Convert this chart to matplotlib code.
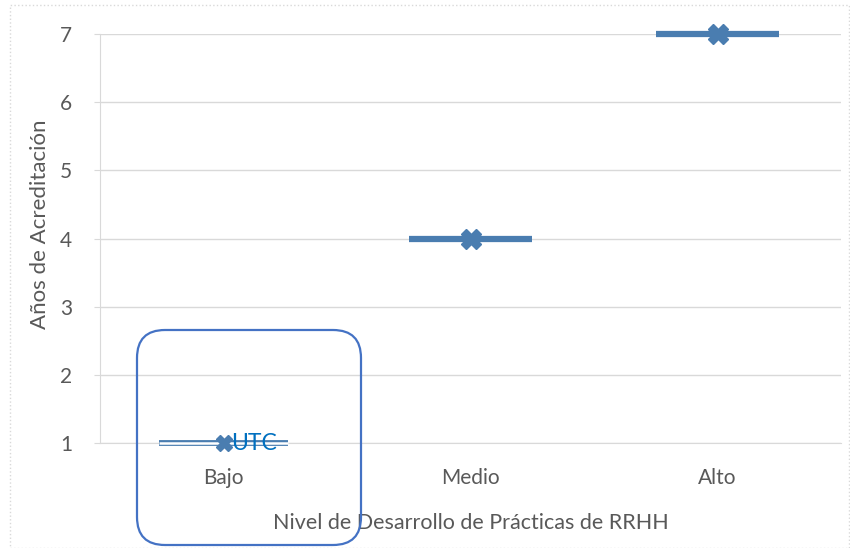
import matplotlib
matplotlib.use('Agg')
import matplotlib.pyplot as plt
from matplotlib.patches import FancyBboxPatch, Rectangle
from matplotlib.transforms import IdentityTransform

categories = ['Bajo', 'Medio', 'Alto']
years = [1, 4, 7]
yticks = [1, 2, 3, 4, 5, 6, 7]
note_text = 'UTC'

blue = '#4A7DB0'
gray_txt = '#595959'
grid_c = '#D9D9D9'

plt.rcParams['font.family'] = ['Lato', 'DejaVu Sans']

fig = plt.figure(figsize=(8.5, 5.48), dpi=100)
ax = fig.add_axes([100/850, 1-443/548, 741/850, (443-34)/548])

x = list(range(len(categories)))
half = 0.26
for i, v in zip(x, years):
    if i == 0:
        # collapsed box drawn as outline only
        ax.plot([i-half, i+half], [v, v], color=blue, lw=4.2, solid_capstyle='butt',
                zorder=3, clip_on=False)
        ax.plot([i-half, i+half], [v, v], color='white', lw=1.8,
                solid_capstyle='butt', zorder=4, clip_on=False)
    else:
        ax.plot([i-half+0.01, i+half-0.01], [v, v], color=blue, lw=4.5,
                solid_capstyle='butt', zorder=3, clip_on=False)
ax.plot(x[1:], years[1:], linestyle='none', marker='X', ms=14, color=blue, mec=blue,
        zorder=5, clip_on=False)
# Bajo marker sits behind the note
ax.plot(x[:1], years[:1], linestyle='none', marker='X', ms=11, color=blue, mec=blue,
        zorder=5, clip_on=False)

ax.text(x[0]+0.125, years[0], note_text, color='#0070C0', fontsize=16.5,
        ha='center', va='center', zorder=6)

ax.set_xlim(-0.5, 2.5)
ax.set_ylim(1, 7)
ax.set_yticks(yticks)
ax.set_xticks(x)
ax.set_xticklabels(categories)
ax.grid(axis='y', color=grid_c, lw=1)
ax.set_axisbelow(True)
for s in ['top', 'right']:
    ax.spines[s].set_visible(False)
ax.spines['left'].set_color(grid_c)
ax.spines['bottom'].set_color(grid_c)
ax.tick_params(axis='y', colors=grid_c, labelcolor=gray_txt, labelsize=15, length=4, pad=16)
ax.tick_params(axis='x', length=0, labelcolor=gray_txt, labelsize=15, pad=18)
ax.set_xlabel('Nivel de Desarrollo de Prácticas de RRHH', color=gray_txt, fontsize=15.5, labelpad=18)
ax.set_ylabel('Años de Acreditación', color=gray_txt, fontsize=16)
ax.yaxis.set_label_coords(-50/741, 0.535)

# callout box around Bajo
box = FancyBboxPatch((137, 3), 224, 215, boxstyle='round,pad=0,rounding_size=28',
                     transform=IdentityTransform(), fill=False, ec='#4472C4', lw=1.6,
                     clip_on=False)
fig.patches.append(box)

frame = Rectangle((10, 0), 839, 543, transform=IdentityTransform(), fill=False,
                  ec=grid_c, lw=1, ls=':', clip_on=False)
fig.patches.append(frame)

fig.savefig('out.png', dpi=100)
